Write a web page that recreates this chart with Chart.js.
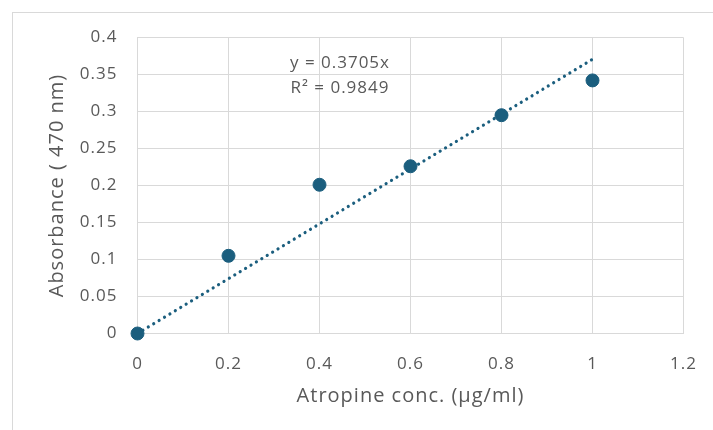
<!DOCTYPE html>
<html><head><meta charset="utf-8">
<script src="https://cdn.jsdelivr.net/npm/chart.js@4/dist/chart.umd.min.js"></script>
<style>html,body{margin:0;padding:0;background:#fff}#wrap{width:713px;height:430px;position:relative}</style>
</head><body><div id="wrap"><canvas id="c" width="713" height="430"></canvas></div>
<script>
const concentrations = [0, 0.2, 0.4, 0.6, 0.8, 1];
const absorbance = [0, 0.105, 0.201, 0.226, 0.295, 0.342];
const slope = 0.3705;
const rSquared = 0.9849;
const trendX = [0, 1];
const xTicks = [0, 0.2, 0.4, 0.6, 0.8, 1, 1.2];
const yTicks = [0, 0.05, 0.1, 0.15, 0.2, 0.25, 0.3, 0.35, 0.4];

const FONT = "'Open Sans', sans-serif";
const TXT = '#595959';
const GRID = '#d9d9d9';
const MARK = '#1b5e7e';

const framePlugin = {
  id: 'frame',
  beforeDraw(chart) {
    const ctx = chart.ctx;
    ctx.letterSpacing = '1px';
    ctx.save();
    ctx.strokeStyle = GRID; ctx.lineWidth = 1;
    ctx.strokeRect(12.5, 12.5, 900, 600);
    ctx.restore();
  },
  afterDatasetsDraw(chart) {
    const ctx = chart.ctx;
    const xs = chart.scales.x, ys = chart.scales.y;
    const cx = xs.getPixelForValue(0.445);
    const y1 = ys.getPixelForValue(0.365);
    const y2 = ys.getPixelForValue(0.331);
    ctx.save();
    ctx.letterSpacing = '1px';
    ctx.fillStyle = TXT;
    ctx.font = "17px " + FONT;
    ctx.textAlign = 'center'; ctx.textBaseline = 'middle';
    ctx.fillText('y = ' + slope + 'x', cx, y1);
    ctx.fillText('R\u00B2 = ' + rSquared, cx, y2);
    ctx.restore();
  }
};

new Chart(document.getElementById('c'), {
  type: 'scatter',
  data: {
    datasets: [
      {
        data: concentrations.map((x, i) => ({x, y: absorbance[i]})),
        backgroundColor: MARK, borderColor: MARK, clip: false,
        pointRadius: 6.5, pointHoverRadius: 6.5, showLine: false, order: 1
      },
      {
        data: trendX.map(x => ({x, y: slope * x})),
        showLine: true, borderColor: MARK, borderWidth: 3.2, clip: false,
        borderDash: [0.01, 6.3], borderCapStyle: 'round',
        pointRadius: 0, fill: false, order: 2
      }
    ]
  },
  options: {
    responsive: false, animation: false,
    layout: { padding: { left: 0, top: 37.5, right: 29.5, bottom: 0 } },
    plugins: { legend: { display: false }, tooltip: { enabled: false } },
    scales: {
      x: {
        type: 'linear', min: 0, max: 1.2,
        afterBuildTicks(s) { s.ticks = xTicks.map(v => ({value: v})); },
        afterFit(s) { s.height = 96.5; s.paddingLeft = 0; s.paddingRight = 0; },
        grid: { color: GRID, drawTicks: false, lineWidth: 1 },
        border: { color: GRID },
        ticks: { color: TXT, font: { family: FONT, size: 17 }, padding: 20, callback: v => String(v) },
        title: { display: true, text: 'Atropine conc. (\u00B5g/ml)', color: TXT, font: { family: FONT, size: 20 }, padding: { top: 22, bottom: 22 } }
      },
      y: {
        type: 'linear', min: 0, max: 0.4,
        afterBuildTicks(s) { s.ticks = yTicks.map(v => ({value: v})); },
        afterFit(s) { s.width = 137.5; s.paddingTop = 0; s.paddingBottom = 0; },
        grid: { color: GRID, drawTicks: false, lineWidth: 1 },
        border: { color: GRID },
        ticks: { color: TXT, font: { family: FONT, size: 17 }, padding: 20, callback: v => String(v) },
        title: { display: true, text: 'Absorbance ( 470 nm)', color: TXT, font: { family: FONT, size: 20 }, padding: { top: 45, bottom: 45 } }
      }
    }
  },
  plugins: [framePlugin]
});
</script></body></html>
